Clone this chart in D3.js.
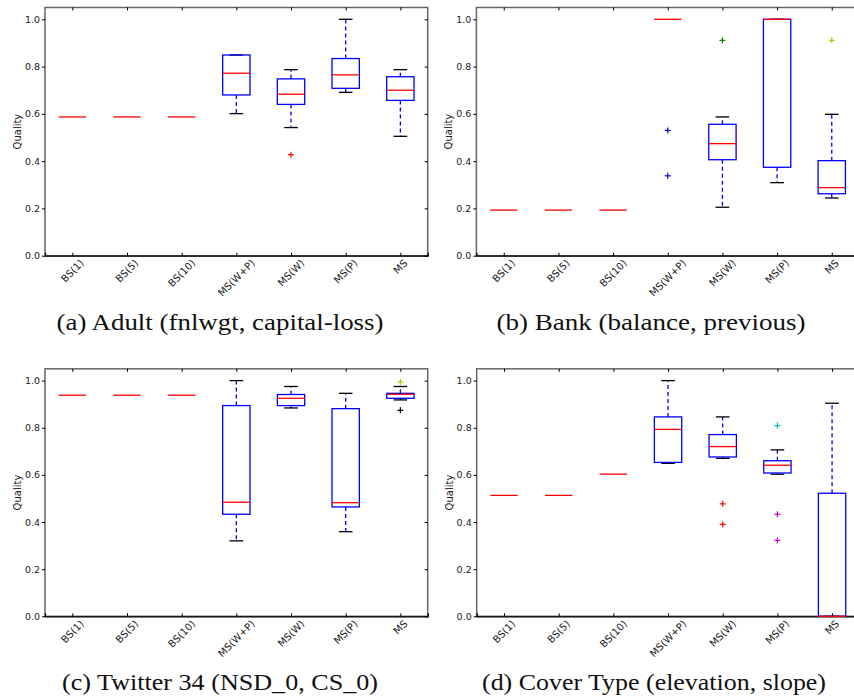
<!DOCTYPE html>
<html>
<head>
<meta charset="utf-8">
<script src="https://cdn.jsdelivr.net/npm/d3@7"></script>
<style>
    body { margin: 0; background: #fff; }
    svg { display: block; }
</style>
</head>
<body>
<div id="chart"></div>
<script>
// Categories and tick values shared by all four panels
const categories = ["BS(1)", "BS(5)", "BS(10)", "MS(W+P)", "MS(W)", "MS(P)", "MS"];
const yTicks = [0, 0.2, 0.4, 0.6, 0.8, 1.0];
const captions = [
    "(a) Adult (fnlwgt, capital-loss)",
    "(b) Bank (balance, previous)",
    "(c) Twitter 34 (NSD_0, CS_0)",
    "(d) Cover Type (elevation, slope)"
];

// [low whisker, q1, median, q3, high whisker] per category
const adultStats = [
    [0.587, 0.587, 0.587, 0.587, 0.587],
    [0.587, 0.587, 0.587, 0.587, 0.587],
    [0.587, 0.587, 0.587, 0.587, 0.587],
    [0.601, 0.680, 0.772, 0.849, 0.849],
    [0.542, 0.640, 0.683, 0.748, 0.787],
    [0.691, 0.708, 0.765, 0.834, 1.000],
    [0.505, 0.657, 0.700, 0.757, 0.787]
];
const adultFliers = [[], [], [], [], [0.427], [], []];

const bankStats = [
    [0.193, 0.193, 0.193, 0.193, 0.193],
    [0.193, 0.193, 0.193, 0.193, 0.193],
    [0.193, 0.193, 0.193, 0.193, 0.193],
    [1.000, 1.000, 1.000, 1.000, 1.000],
    [0.205, 0.406, 0.474, 0.556, 0.587],
    [0.309, 0.374, 1.000, 1.000, 1.000],
    [0.244, 0.262, 0.288, 0.402, 0.598]
];
const bankFliers = [[], [], [], [0.530, 0.338], [0.911], [], [0.911]];

const twitterStats = [
    [0.938, 0.938, 0.938, 0.938, 0.938],
    [0.938, 0.938, 0.938, 0.938, 0.938],
    [0.938, 0.938, 0.938, 0.938, 0.938],
    [0.320, 0.433, 0.484, 0.894, 1.000],
    [0.884, 0.894, 0.925, 0.941, 0.975],
    [0.359, 0.464, 0.482, 0.881, 0.946],
    [0.918, 0.925, 0.942, 0.946, 0.975]
];
const twitterFliers = [[], [], [], [], [], [], [0.994, 0.874]];

const coverStats = [
    [0.513, 0.513, 0.513, 0.513, 0.513],
    [0.513, 0.513, 0.513, 0.513, 0.513],
    [0.603, 0.603, 0.603, 0.603, 0.603],
    [0.649, 0.653, 0.793, 0.846, 1.000],
    [0.670, 0.676, 0.720, 0.771, 0.846],
    [0.603, 0.608, 0.641, 0.660, 0.706],
    [0.000, 0.000, 0.000, 0.522, 0.904]
];
const coverFliers = [[], [], [], [], [0.477, 0.390], [0.809, 0.433, 0.322], []];

// flier marker colours, one per flier
const adultFlierColors = [[], [], [], [], ["#ff0000"], [], []];
const bankFlierColors = [[], [], [], ["#0000ff", "#0000ff"], ["#008000"], [], ["#bfbf00"]];
const twitterFlierColors = [[], [], [], [], [], [], ["#bfbf00", "#000000"]];
const coverFlierColors = [[], [], [], [], ["#ff0000", "#ff0000"], ["#00bfbf", "#bf00bf", "#bf00bf"], []];

const width = 854, height = 698;
const plotW = 382.7;

const panels = [
    { stats: adultStats, fliers: adultFliers, colors: adultFlierColors, left: 45, bottom: 255.7, unit: 236.4, cx: 220, cy: 330, capLen: 327 },
    { stats: bankStats, fliers: bankFliers, colors: bankFlierColors, left: 476.4, bottom: 255.7, unit: 236.4, cx: 651, cy: 330, capLen: 309 },
    { stats: twitterStats, fliers: twitterFliers, colors: twitterFlierColors, left: 45, bottom: 616.3, unit: 235.7, cx: 220, cy: 690, capLen: 316 },
    { stats: coverStats, fliers: coverFliers, colors: coverFlierColors, left: 476.7, bottom: 616.3, unit: 235.7, cx: 654, cy: 690, capLen: 344 }
];

const svg = d3.select("#chart").append("svg")
    .attr("width", width)
    .attr("height", height);

panels.forEach((p, pi) => {
    const plotH = p.unit * 1.05;
    const g = svg.append("g").attr("transform", `translate(${p.left},${p.bottom - plotH})`);

    const x = d3.scaleLinear().domain([0.5, 7.5]).range([0, plotW]);
    const y = d3.scaleLinear().domain([0, 1.05]).range([plotH, 0]);
    const step = x(2) - x(1);
    const boxW = step * 0.5;
    const capW = step * 0.25;

    // frame
    g.append("rect")
        .attr("width", plotW).attr("height", plotH)
        .attr("fill", "none").attr("stroke", "#666").attr("stroke-width", 1.5);

    // left axis with ticks outward
    const yAxis = g.append("g")
        .call(d3.axisLeft(y).tickValues(yTicks).tickFormat(d3.format(".1f")).tickSize(3).tickPadding(2));
    yAxis.select(".domain").remove();
    yAxis.selectAll("text").attr("font-family", "DejaVu Sans").attr("font-size", 9.5).attr("fill", "#222");

    // right inner ticks
    g.append("g").attr("transform", `translate(${plotW},0)`)
        .call(d3.axisLeft(y).tickValues(yTicks).tickSize(3).tickFormat(""))
        .select(".domain").remove();

    // top inner ticks
    g.append("g")
        .call(d3.axisBottom(x).tickValues(d3.range(1, 8)).tickSize(3).tickFormat(""))
        .select(".domain").remove();

    // bottom axis with inner ticks
    const xAxis = g.append("g").attr("transform", `translate(0,${plotH})`)
        .call(d3.axisTop(x).tickValues(d3.range(1, 8)).tickSize(3).tickFormat(""));
    xAxis.select(".domain").attr("stroke", "#000").attr("stroke-width", 1.3);

    // rotated category labels, bounding-box centre under the tick
    categories.forEach((c, i) => {
        const t = g.append("text")
            .attr("font-family", "DejaVu Sans")
            .attr("font-size", 10)
            .attr("fill", "#222")
            .attr("text-anchor", "middle")
            .attr("dominant-baseline", "central")
            .text(c);
        const len = t.node().getComputedTextLength();
        const h = 7.5;
        const half = (len + h) * Math.SQRT1_2 / 2;
        const tx = x(i + 1), ty = plotH + 3 + half;
        t.attr("transform", `translate(${tx},${ty}) rotate(-45)`);
    });

    // y label
    g.append("text")
        .attr("transform", `translate(${-24},${plotH / 2}) rotate(-90)`)
        .attr("text-anchor", "middle")
        .attr("font-family", "DejaVu Sans")
        .attr("font-size", 10)
        .attr("fill", "#222")
        .text("Quality");

    const boxes = g.append("g").selectAll("g")
        .data(p.stats)
        .enter().append("g");

    // whiskers
    boxes.append("line")
        .attr("x1", (d, i) => x(i + 1)).attr("x2", (d, i) => x(i + 1))
        .attr("y1", d => y(d[3])).attr("y2", d => y(d[4]))
        .attr("stroke", "#0000ff").attr("stroke-width", 1.3).attr("stroke-dasharray", "4,3");
    boxes.append("line")
        .attr("x1", (d, i) => x(i + 1)).attr("x2", (d, i) => x(i + 1))
        .attr("y1", d => y(d[1])).attr("y2", d => y(d[0]))
        .attr("stroke", "#0000ff").attr("stroke-width", 1.3).attr("stroke-dasharray", "4,3");

    // caps (hidden when the whole box collapses to a single value)
    [0, 4].forEach(k => {
        boxes.append("line")
            .attr("x1", (d, i) => x(i + 1) - capW / 2).attr("x2", (d, i) => x(i + 1) + capW / 2)
            .attr("y1", d => y(d[k])).attr("y2", d => y(d[k]))
            .attr("stroke", d => d[4] > d[0] ? "#000" : "none").attr("stroke-width", 1.3);
    });

    // boxes (collapsed boxes leave only the median visible)
    boxes.append("rect")
        .attr("x", (d, i) => x(i + 1) - boxW / 2)
        .attr("y", d => y(d[3]))
        .attr("width", boxW)
        .attr("height", d => y(d[1]) - y(d[3]))
        .attr("fill", "none")
        .attr("stroke", d => d[3] > d[1] ? "#0000ff" : "none")
        .attr("stroke-width", 1.3);

    // medians
    boxes.append("line")
        .attr("x1", (d, i) => x(i + 1) - boxW / 2).attr("x2", (d, i) => x(i + 1) + boxW / 2)
        .attr("y1", d => y(d[2])).attr("y2", d => y(d[2]))
        .attr("stroke", "#ff0000").attr("stroke-width", 1.3);

    // fliers as + markers
    const flierData = [];
    p.fliers.forEach((vals, i) => vals.forEach((v, j) => flierData.push({ i, v, color: p.colors[i][j] })));
    const fl = g.append("g").selectAll("g")
        .data(flierData)
        .enter().append("g")
        .attr("transform", d => `translate(${x(d.i + 1)},${y(d.v)})`)
        .attr("stroke", d => d.color).attr("stroke-width", 1.2);
    fl.append("line").attr("x1", -3).attr("x2", 3);
    fl.append("line").attr("y1", -3).attr("y2", 3);

    // caption
    svg.append("text")
        .attr("x", p.cx).attr("y", p.cy)
        .attr("text-anchor", "middle")
        .attr("font-family", "Liberation Serif")
        .attr("font-size", 23)
        .attr("fill", "#111")
        .attr("textLength", p.capLen)
        .attr("lengthAdjust", "spacingAndGlyphs")
        .text(captions[pi]);
});
</script>
</body>
</html>
